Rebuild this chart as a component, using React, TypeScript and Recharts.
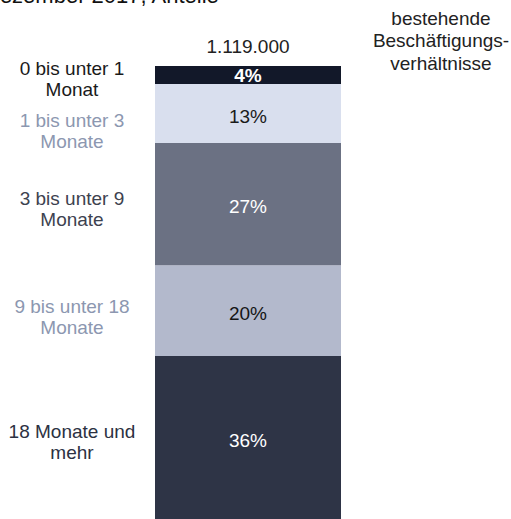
// Gestapelte Säule: bestehende Beschäftigungsverhältnisse nach Dauer, Dezember 2017.
// Eine Kategorie, fünf Segmente; die Beschriftung links kommt aus den LabelLists der Segmente.

import { Bar, BarChart, Customized, LabelList, XAxis, YAxis } from "recharts";

const CATEGORIES = ["Dezember 2017"];
const SERIES_KEYS = ["d0_1", "d1_3", "d3_9", "d9_18", "d18"];
const SHARES = [4, 13, 27, 20, 36];
const SERIES_LINES = [
  ["0 bis unter 1", "Monat"],
  ["1 bis unter 3", "Monate"],
  ["3  bis unter 9", "Monate"],
  ["9 bis unter 18", "Monate"],
  ["18 Monate und", "mehr"],
];
const TOTAL = "1.119.000";
const TITLE = "Dezember 2017, Anteile";
const COLUMN_HEAD = ["bestehende", "Beschäftigungs-", "verhältnisse"];

const FONT = '"Liberation Sans", Arial, sans-serif';
const FILL = ["#121829", "#d9dfee", "#6b7183", "#b3b9cc", "#2e3446"];
const VALUE_COLOR = ["#ffffff", "#1a1a1a", "#ffffff", "#151515", "#ffffff"];
const SIDE_COLOR = ["#1a1a1a", "#8c97b0", "#3d424f", "#8c97b0", "#2c3142"];
// kleine Verschiebungen gegenüber der Segmentmitte, wie im Original
const VALUE_DY = [0, 2.5, 2.5, 2.5, 3];
const SIDE_DY = [3.5, 17, 4.5, 5.5, 4.5];

const data = CATEGORIES.map((name) => {
  const row: Record<string, string | number> = { name };
  SERIES_KEYS.forEach((k, i) => (row[k] = SHARES[i]));
  return row;
});

// unterstes Segment zuerst stapeln
const STACK_ORDER = [4, 3, 2, 1, 0];

export default function App() {
  return (
    <div style={{ position: "absolute", left: 0, top: 0 }}>
      <BarChart
        width={511}
        height={519}
        data={data}
        margin={{ top: 66, right: 170, bottom: 0, left: 155 }}
        barCategoryGap={0}
      >
        <XAxis dataKey="name" hide />
        <YAxis hide domain={[0, 100]} />
        {STACK_ORDER.map((i) => (
          <Bar
            key={SERIES_KEYS[i]}
            dataKey={SERIES_KEYS[i]}
            stackId="a"
            fill={FILL[i]}
            isAnimationActive={false}
          >
            <LabelList
              dataKey={SERIES_KEYS[i]}
              content={(p: any) => {
                const cx = p.x + p.width / 2;
                const cy = p.y + p.height / 2;
                const sideX = p.x - 83;
                const sideY = cy + SIDE_DY[i];
                return (
                  <g style={{ fontFamily: FONT, fontSize: 19 }}>
                    <text
                      x={cx}
                      y={cy + VALUE_DY[i]}
                      textAnchor="middle"
                      dominantBaseline="central"
                      fill={VALUE_COLOR[i]}
                      fontWeight={i === 0 ? 700 : 400}
                    >
                      {p.value}%
                    </text>
                    <text x={sideX} textAnchor="middle" dominantBaseline="central" fill={SIDE_COLOR[i]}>
                      <tspan x={sideX} y={sideY - 10.5}>{SERIES_LINES[i][0]}</tspan>
                      <tspan x={sideX} y={sideY + 10.5}>{SERIES_LINES[i][1]}</tspan>
                    </text>
                    {i === 0 && (
                      <text x={cx} y={p.y - 20} textAnchor="middle" dominantBaseline="central" fill="#222">
                        {TOTAL}
                      </text>
                    )}
                  </g>
                );
              }}
            />
          </Bar>
        ))}
        <Customized
          component={() => (
            <g style={{ fontFamily: FONT }}>
              <text x={-16} y={3} fontSize={22} fill="#111">
                {TITLE}
              </text>
              {COLUMN_HEAD.map((line, j) => (
                <text
                  key={line}
                  x={441}
                  y={18 + j * 22.5}
                  textAnchor="middle"
                  dominantBaseline="central"
                  fontSize={19}
                  fill="#222"
                >
                  {line}
                </text>
              ))}
            </g>
          )}
        />
      </BarChart>
    </div>
  );
}
